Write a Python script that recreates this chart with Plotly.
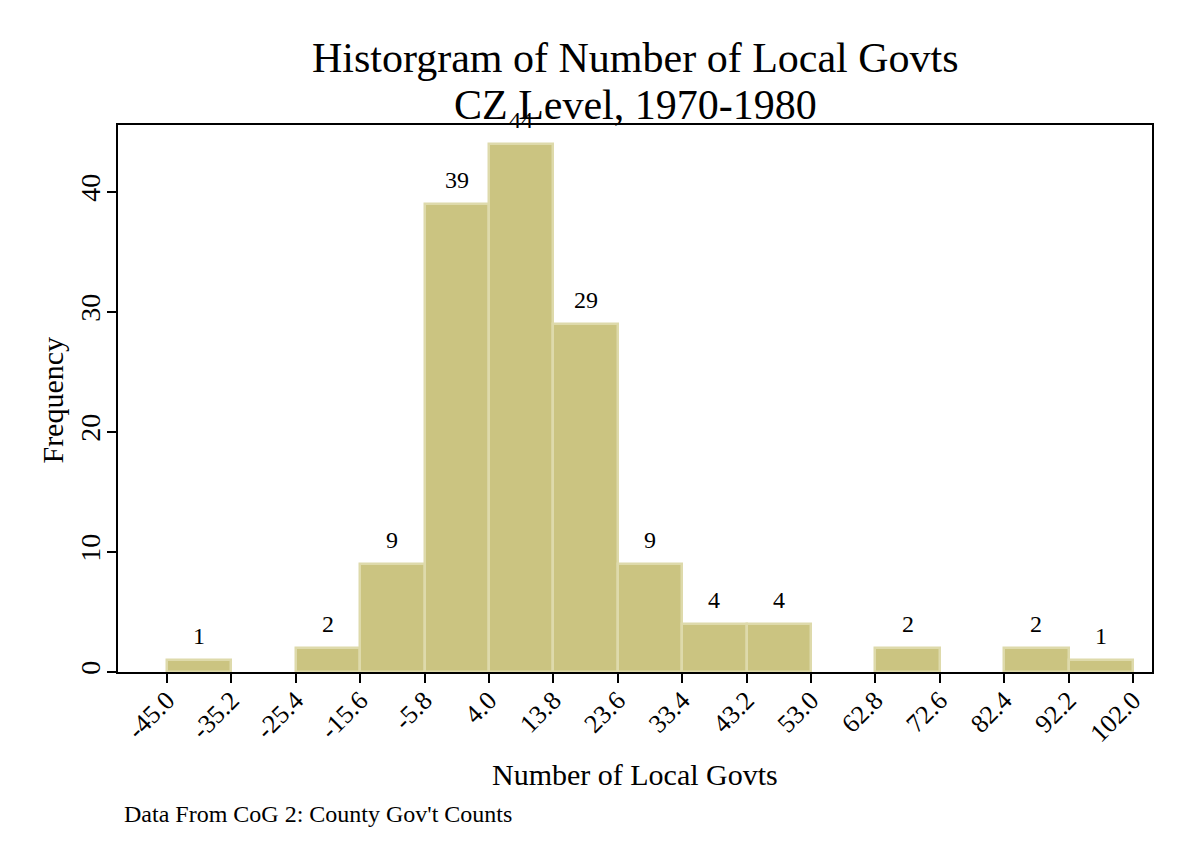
import plotly.graph_objects as go

# Data
bin_width = 9.8
counts = [1, 0, 2, 9, 39, 44, 29, 9, 4, 4, 0, 2, 0, 2, 1]
tick_labels = ["-45.0", "-35.2", "-25.4", "-15.6", "-5.8", "4.0", "13.8", "23.6",
               "33.4", "43.2", "53.0", "62.8", "72.6", "82.4", "92.2", "102.0"]
y_ticks = [0, 10, 20, 30, 40]
title_lines = ["Historgram of Number of Local Govts", "CZ Level, 1970-1980"]
x_title = "Number of Local Govts"
y_title = "Frequency"
note = "Data From CoG 2: County Gov't Counts"

edges = [float(t) for t in tick_labels]
centers = [(edges[i] + edges[i + 1]) / 2 for i in range(len(counts))]
bar_x = [c for c, v in zip(centers, counts) if v > 0]
bar_y = [v for v in counts if v > 0]

FONT = "Liberation Serif, Times New Roman, serif"
BLACK = "black"

fig = go.Figure()
fig.add_trace(go.Bar(
    x=bar_x, y=bar_y, width=[bin_width] * len(bar_x),
    marker=dict(color="#cbc481", line=dict(color="#dedaab", width=2.5)),
    hoverinfo="x+y",
))

for c, v in zip(bar_x, bar_y):
    fig.add_annotation(x=c, y=v, text=str(v), showarrow=False,
                       yanchor="bottom", yshift=9,
                       font=dict(family=FONT, size=24, color=BLACK))

# titles as annotations
fig.add_annotation(xref="paper", yref="paper", x=0.5, y=1.1232, xanchor="center", yanchor="middle",
                   text=title_lines[0], showarrow=False, font=dict(family=FONT, size=42, color=BLACK))
fig.add_annotation(xref="paper", yref="paper", x=0.5, y=1.0373, xanchor="center", yanchor="middle",
                   text=title_lines[1], showarrow=False, font=dict(family=FONT, size=42, color=BLACK))
fig.add_annotation(xref="paper", yref="paper", x=0.5, y=-0.188, xanchor="center", yanchor="middle",
                   text=x_title, showarrow=False, font=dict(family=FONT, size=30, color=BLACK))
fig.add_annotation(xref="paper", yref="paper", x=-0.0629, y=0.498, xanchor="center", yanchor="middle",
                   text=y_title, textangle=-90, showarrow=False, font=dict(family=FONT, size=30, color=BLACK))
fig.add_annotation(xref="paper", yref="paper", x=0.0039, y=-0.2596, xanchor="left", yanchor="middle",
                   text=note, showarrow=False, font=dict(family=FONT, size=24, color=BLACK))

fig.update_layout(
    width=1175, height=853,
    margin=dict(l=110, r=31, t=117, b=189),
    paper_bgcolor="white", plot_bgcolor="white",
    font=dict(family=FONT, color=BLACK),
    showlegend=False,
    bargap=0,
    xaxis=dict(range=[-52.46, 104.9], tickmode="array", tickvals=edges, ticktext=tick_labels,
               tickangle=-45, ticks="outside", ticklen=9, tickwidth=1.5, tickcolor=BLACK,
               ticklabelstandoff=-8,
               showline=True, linecolor=BLACK, linewidth=1.5, mirror=True,
               showgrid=False, zeroline=False,
               tickfont=dict(family=FONT, size=26, color=BLACK)),
    yaxis=dict(range=[0, 45.58], tickmode="array", tickvals=y_ticks,
               tickangle=-90, ticks="outside", ticklen=9, tickwidth=1.5, tickcolor=BLACK,
               ticklabelstandoff=-4,
               showline=True, linecolor=BLACK, linewidth=1.5, mirror=True,
               showgrid=False, zeroline=False,
               tickfont=dict(family=FONT, size=28, color=BLACK)),
)

fig.write_html("out.html")
